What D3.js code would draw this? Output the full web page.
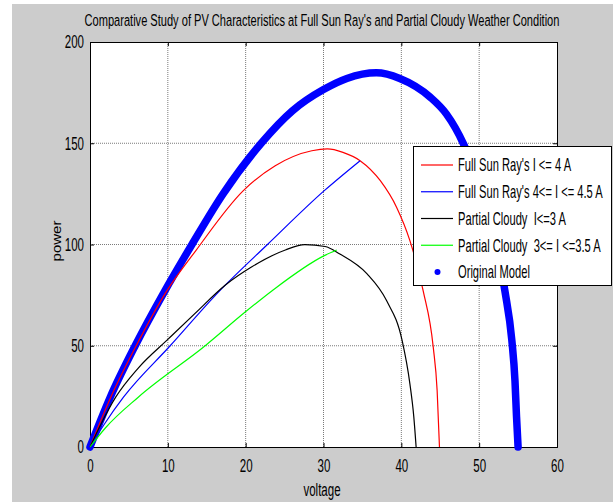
<!DOCTYPE html>
<html>
<head>
<meta charset="utf-8">
<script src="https://cdn.jsdelivr.net/npm/d3@7"></script>
<style>
  body { margin: 0; background: #fff; }
  text { font-family: "Liberation Sans", Arial, sans-serif; fill: #000; }
</style>
</head>
<body>
<svg id="pv_svg"></svg>
<script>
// values (voltage / power)
const originalV = [0, 2.6, 5.8, 9.6, 13.1, 17.1, 22.0, 26.0, 30.0, 33.0, 36.8, 39.8, 43.7, 45.8, 48.0, 50.0, 52.0, 53.3, 54.2, 54.6, 54.8, 55.0]
const originalP = [0, 24.6, 50, 77, 100, 125, 150, 166, 176.5, 182, 184.8, 182, 172.8, 164.4, 149.6, 130, 104, 77.2, 52.6, 32.8, 15, 0]

const fullSunV = [0, 2.6, 5.8, 9.85, 13.6, 19.7, 23.8, 28.5, 30.5, 32.5, 34.7, 37.3, 39.4, 41.1, 42.8, 44.1, 44.6, 44.9]
const fullSunP = [0, 24, 49, 77, 97, 126.6, 138.9, 146.3, 147.2, 145.5, 141.4, 131.5, 118.3, 101.9, 77.2, 49.3, 27.9, 0]

const fullSunHighV = [0, 1.9, 4.3, 10.3, 16.5, 22.8, 30.1, 34.7]
const fullSunHighP = [0, 11.6, 24.6, 50, 76.5, 100, 126.6, 141.4]

const cloudyV = [0, 1.5, 3.3, 6.2, 10.1, 13.5, 17.4, 20.8, 25.1, 27.6, 30.2, 32.1, 35.6, 38.1, 40.1, 41.1, 41.6, 41.9]
const cloudyP = [0, 12, 24.6, 39, 53.5, 66, 80, 89, 97.3, 99.9, 99, 95.3, 85.5, 72.3, 52.6, 31.2, 15, 0]

const cloudyHighV = [0, 2.0, 6.2, 14.8, 19.9, 23.4, 30.1, 31.7]
const cloudyHighP = [0, 9.5, 24.6, 50, 66.5, 77.2, 94.5, 97.3]

const xTicks = [0, 10, 20, 30, 40, 50, 60]
const yTicks = [0, 50, 100, 150, 200]

const legendLabels = ["Full Sun Ray's I <= 4 A", "Full Sun Ray's 4<= I <= 4.5 A", "Partial Cloudy  I<=3 A", "Partial Cloudy  3<= I <=3.5 A", "Original Model"]

const W = 613, H = 502
const plot = { left: 90, right: 557, top: 42, bottom: 447 }
const squish = 0.64   // text in the picture is narrow

const svg = d3.select("#pv_svg").attr("width", W).attr("height", H)

// figure background
svg.append("rect").attr("width", W).attr("height", H).attr("fill", "#fff")
svg.append("rect").attr("x", 12).attr("y", 4).attr("width", W - 12).attr("height", H - 4).attr("fill", "#cccccc")
svg.append("rect")
    .attr("x", plot.left).attr("y", plot.top)
    .attr("width", plot.right - plot.left).attr("height", plot.bottom - plot.top)
    .attr("fill", "#fff")

const x = d3.scaleLinear().domain([0, 60]).range([plot.left, plot.right])
const y = d3.scaleLinear().domain([0, 200]).range([plot.bottom, plot.top])

// dotted grid
svg.append("g").selectAll("line")
    .data(xTicks.slice(1, -1)).enter().append("line")
    .attr("x1", d => x(d)).attr("x2", d => x(d))
    .attr("y1", plot.top).attr("y2", plot.bottom)
    .attr("stroke", "#7a7a7a").attr("stroke-dasharray", "1,1")
svg.append("g").selectAll("line")
    .data(yTicks.slice(1, -1)).enter().append("line")
    .attr("y1", d => y(d)).attr("y2", d => y(d))
    .attr("x1", plot.left).attr("x2", plot.right)
    .attr("stroke", "#7a7a7a").attr("stroke-dasharray", "1,1")

// axes, ticks pointing inwards on all four sides
const squishText = (sel) => {
    sel.selectAll("text")
        .attr("x", function () { return +d3.select(this).attr("x") / squish })
        .attr("transform", `scale(${squish},1)`)
        .style("font-size", "18px")
}
const xAxis = svg.append("g").attr("transform", `translate(0,${plot.bottom})`)
    .call(d3.axisBottom(x).tickValues(xTicks).tickSize(-4).tickPadding(9))
xAxis.selectAll("text").attr("dy", "0.71em").attr("y", 12)
squishText(xAxis)
const yAxis = svg.append("g").attr("transform", `translate(${plot.left},0)`)
    .call(d3.axisLeft(y).tickValues(yTicks).tickSize(-4).tickPadding(6))
squishText(yAxis)
svg.append("g").attr("transform", `translate(0,${plot.top})`)
    .call(d3.axisTop(x).tickValues(xTicks).tickSize(-4).tickFormat(""))
svg.append("g").attr("transform", `translate(${plot.right},0)`)
    .call(d3.axisRight(y).tickValues(yTicks).tickSize(-4).tickFormat(""))
svg.selectAll(".domain").attr("stroke", "#000")
svg.selectAll(".tick line").attr("stroke", "#000")

const line = d3.line().x(d => x(d[0])).y(d => y(d[1])).curve(d3.curveMonotoneX)
const pairs = (vs, ps) => vs.map((v, i) => [v, ps[i]])

// thick "original model" dots
svg.append("path")
    .datum(pairs(originalV, originalP))
    .attr("d", line)
    .attr("fill", "none").attr("stroke", "#0000ff")
    .attr("stroke-width", 7.5).attr("stroke-linecap", "round").attr("stroke-linejoin", "round")

const series = [
    { v: fullSunV, p: fullSunP, color: "#ff0000" },
    { v: fullSunHighV, p: fullSunHighP, color: "#0000ff" },
    { v: cloudyV, p: cloudyP, color: "#000000" },
    { v: cloudyHighV, p: cloudyHighP, color: "#00ff00" }
]
svg.append("g").selectAll("path")
    .data(series).enter().append("path")
    .attr("d", d => line(pairs(d.v, d.p)))
    .attr("fill", "none")
    .attr("stroke", d => d.color)
    .attr("stroke-width", 1.2)

// legend
const legendSquish = 0.62
const legend = svg.append("g")
legend.append("rect")
    .attr("x", 413.5).attr("y", 146.5).attr("width", 198).attr("height", 139)
    .attr("fill", "#fff").attr("stroke", "#000")
const rowY = d3.scalePoint().domain(legendLabels).range([165, 272])
legend.selectAll("line")
    .data(series).enter().append("line")
    .attr("x1", 421).attr("x2", 453)
    .attr("y1", (d, i) => rowY(legendLabels[i])).attr("y2", (d, i) => rowY(legendLabels[i]))
    .attr("stroke", d => d.color).attr("stroke-width", 1.2)
legend.append("circle")
    .attr("cx", 437.5).attr("cy", rowY(legendLabels[4])).attr("r", 3)
    .attr("fill", "#0000ff")
legend.selectAll("text")
    .data(legendLabels).enter().append("text")
    .attr("x", 458 / legendSquish).attr("y", d => rowY(d))
    .attr("dy", "0.35em")
    .attr("transform", `scale(${legendSquish},1)`)
    .style("font-size", "18px")
    .style("white-space", "pre")
    .text(d => d)

// title and axis labels
svg.append("text")
    .attr("x", 322 / squish).attr("y", 20)
    .attr("dy", "0.35em")
    .attr("text-anchor", "middle")
    .attr("transform", `scale(${squish},1)`)
    .style("font-size", "17.3px")
    .text("Comparative Study of PV Characteristics at Full Sun Ray's and Partial Cloudy Weather Condition")
svg.append("text")
    .attr("x", 322 / squish).attr("y", 490)
    .attr("dy", "0.35em")
    .attr("text-anchor", "middle")
    .attr("transform", `scale(${squish},1)`)
    .style("font-size", "18px")
    .text("voltage")
svg.append("text")
    .attr("transform", `translate(57,241) rotate(-90) scale(1,0.8)`)
    .attr("text-anchor", "middle")
    .attr("dy", "0.3em")
    .style("font-size", "15px")
    .text("power")
</script>
</body>
</html>
